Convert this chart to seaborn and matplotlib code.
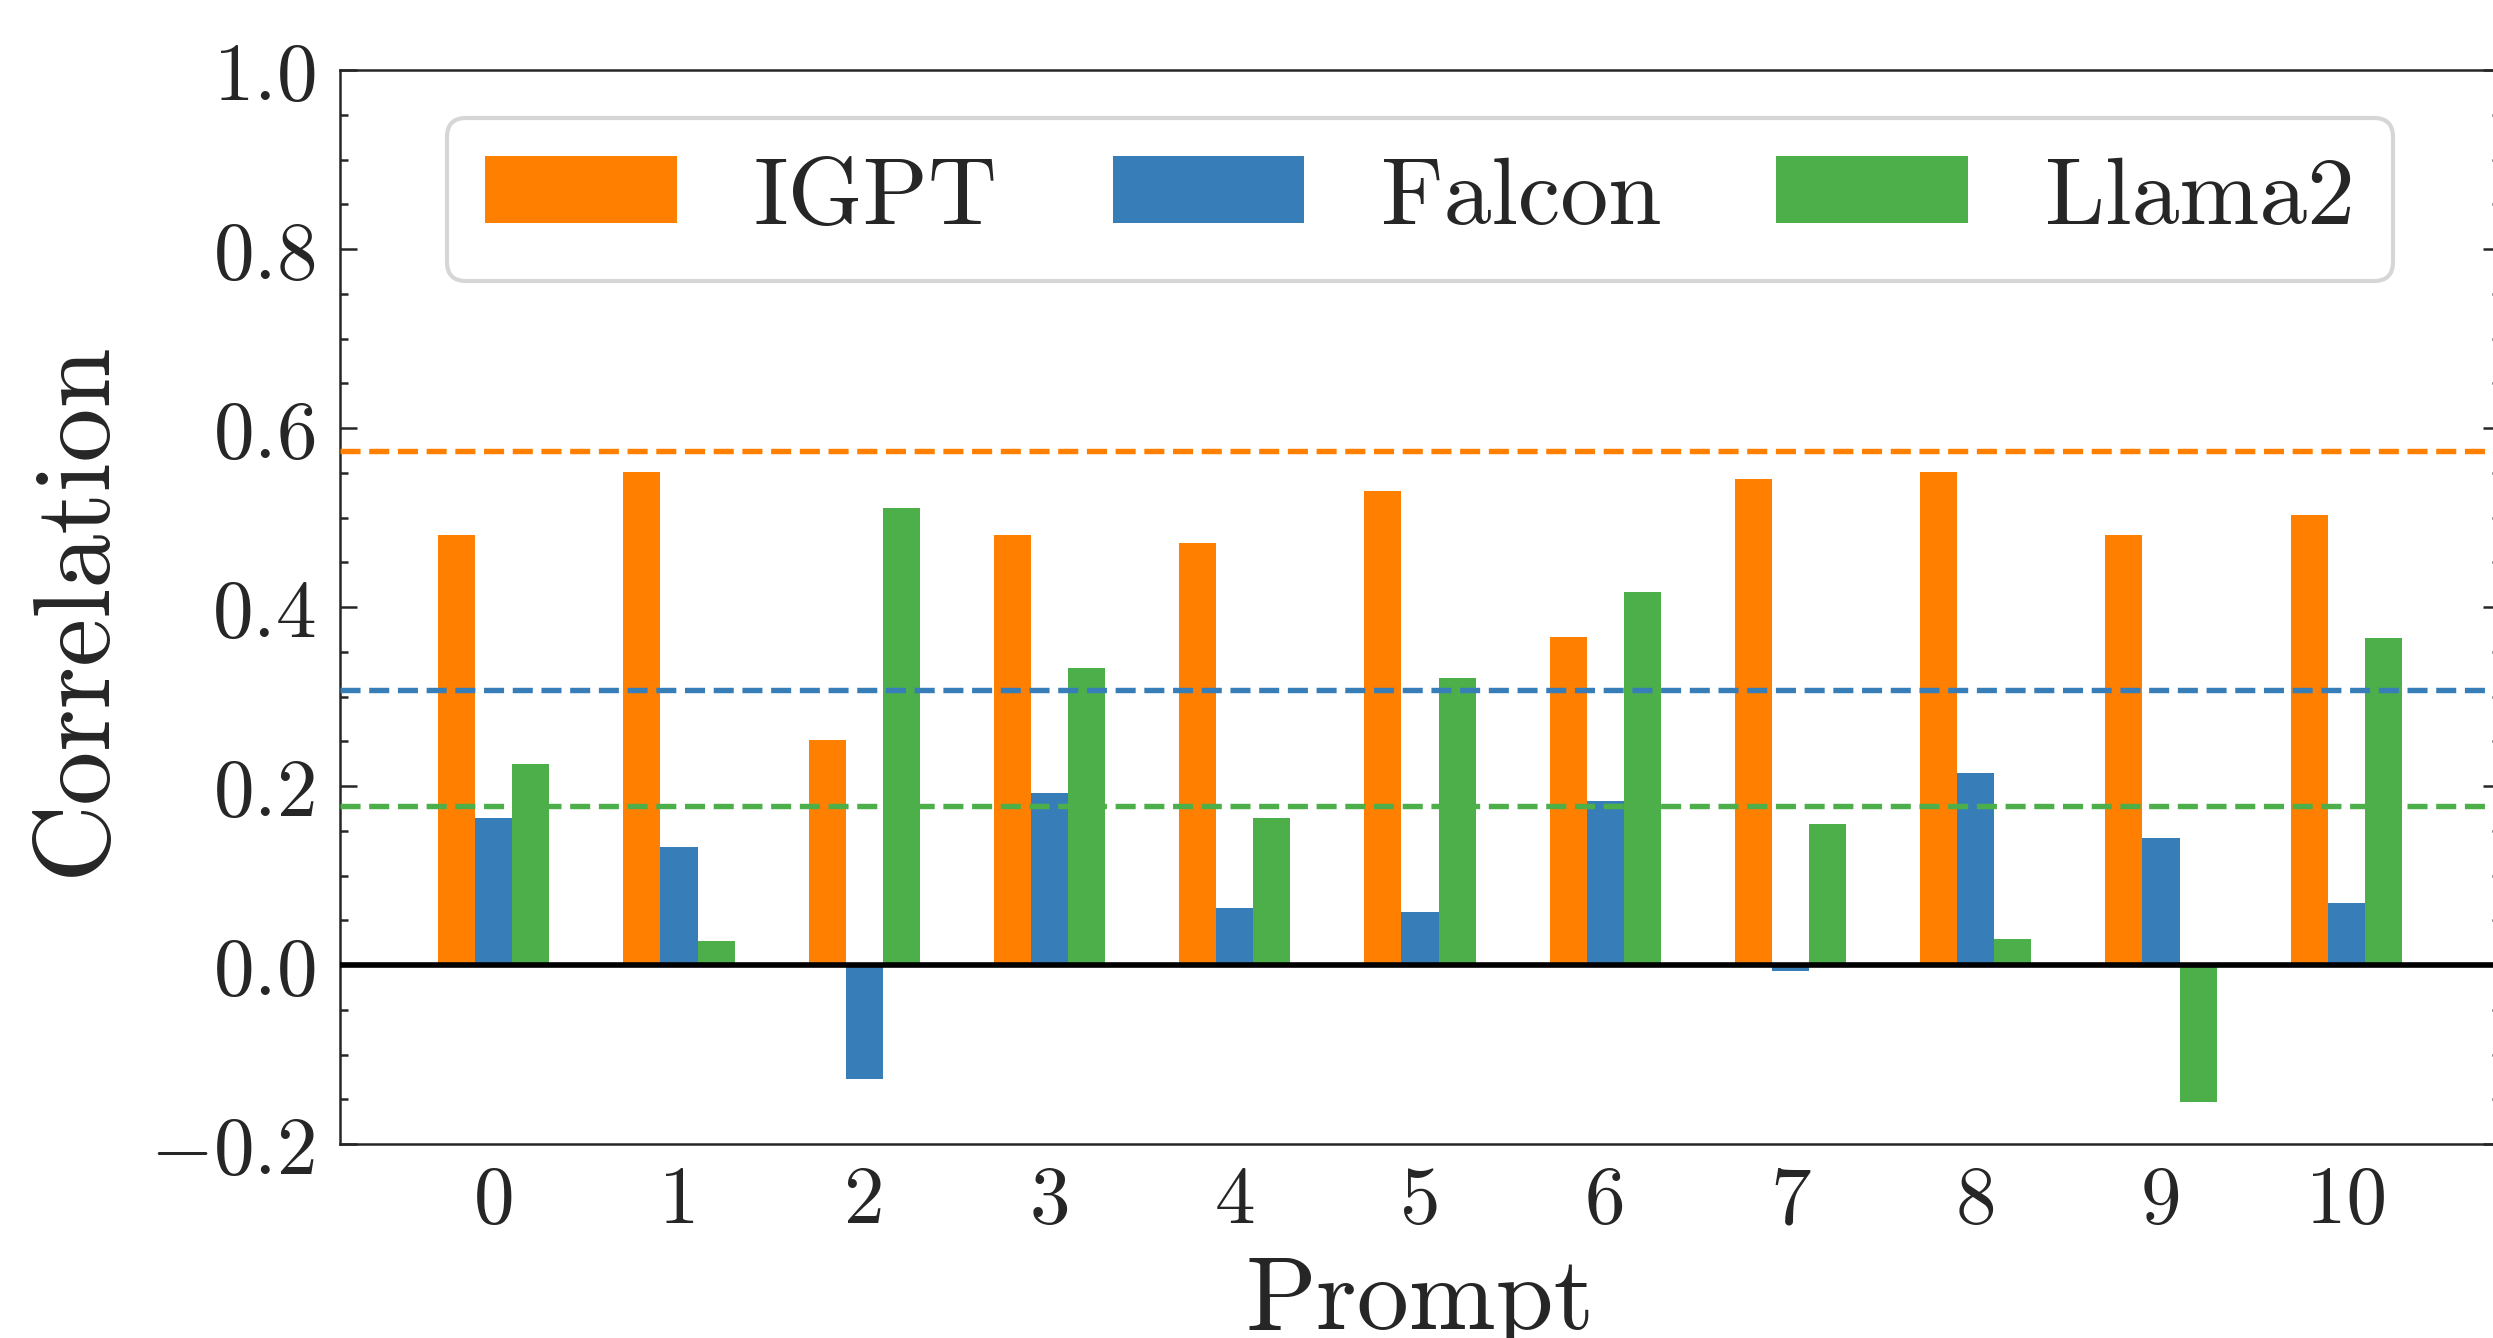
import matplotlib
matplotlib.use("Agg")
import matplotlib.pyplot as plt
from matplotlib.ticker import MultipleLocator
import seaborn as sns
import pandas as pd

# values
prompts = [str(i) for i in range(11)]
igpt = [0.481, 0.551, 0.251, 0.480, 0.471, 0.530, 0.367, 0.543, 0.551, 0.481, 0.503]
falcon = [0.164, 0.132, -0.127, 0.192, 0.064, 0.059, 0.183, -0.007, 0.214, 0.142, 0.069]
llama2 = [0.225, 0.027, 0.511, 0.332, 0.164, 0.321, 0.417, 0.157, 0.029, -0.153, 0.365]
models = ["IGPT", "Falcon", "Llama2"]
baselines = [0.574, 0.307, 0.178]
colors = ["#ff7f00", "#377eb8", "#4daf4a"]

sns.set_style("ticks")
plt.rcParams.update({
    "font.family": "serif",
    "font.serif": ["cmr10"],
    "mathtext.fontset": "cm",
    "axes.formatter.use_mathtext": True,
    "axes.linewidth": 0.6,
})

df = pd.DataFrame({
    "Prompt": prompts * 3,
    "Correlation": igpt + falcon + llama2,
    "Model": [m for m in models for _ in prompts],
})

fig = plt.figure(figsize=(2493 / 300, 1339 / 300), dpi=300)
ax = fig.add_axes([340 / 2493, 194 / 1339, 2160 / 2493, 1074 / 1339])

sns.barplot(data=df, x="Prompt", y="Correlation", hue="Model", hue_order=models,
            palette=colors, saturation=1, width=0.6, errorbar=None,
            linewidth=0, ax=ax)

# reference lines, one per model
for val, c in zip(baselines, colors):
    ax.axhline(val, color=c, ls="--", lw=1.3, zorder=5)
ax.axhline(0, color="black", lw=1.35, zorder=6)

ax.set_ylim(-0.2, 1.0)
ax.set_xlim(-0.83, 10.83)
ax.yaxis.set_major_locator(MultipleLocator(0.2))
ax.yaxis.set_minor_locator(MultipleLocator(0.05))
ax.tick_params(axis="y", which="both", direction="in", left=True, right=True,
               width=0.6, labelsize=19.5, pad=6)
ax.tick_params(axis="y", which="major", length=4)
ax.tick_params(axis="y", which="minor", length=2)
ax.tick_params(axis="x", length=0, labelsize=19.5, pad=5)

ax.set_xlabel("Prompt", fontsize=25, labelpad=4)
ax.set_ylabel("Correlation", fontsize=26, labelpad=6)

ax.legend(loc="upper center", ncol=3, fontsize=23, columnspacing=1.2,
          handlelength=2.0, handletextpad=0.8)

fig.savefig("out.png", dpi=300)
